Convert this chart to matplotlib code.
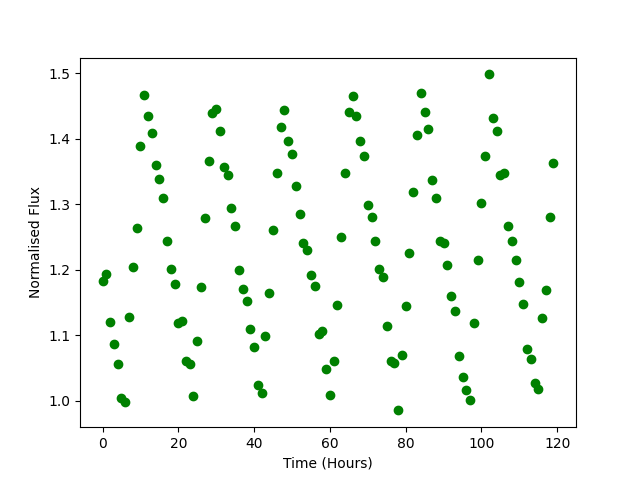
import numpy as np
import matplotlib
matplotlib.use("Agg")
import matplotlib.pyplot as plt

# Time in hours, one reading per hour
time_hours = np.arange(120)

# Normalised flux
flux = [
    1.183, 1.194, 1.120, 1.087, 1.056, 1.004, 0.998, 1.128, 1.204, 1.263,
    1.389, 1.466, 1.434, 1.409, 1.360, 1.339, 1.310, 1.244, 1.201, 1.178,
    1.119, 1.122, 1.061, 1.056, 1.007, 1.091, 1.174, 1.278, 1.366, 1.439,
    1.445, 1.411, 1.357, 1.344, 1.294, 1.266, 1.200, 1.171, 1.152, 1.110,
    1.082, 1.024, 1.012, 1.099, 1.165, 1.261, 1.348, 1.418, 1.444, 1.397,
    1.377, 1.328, 1.285, 1.240, 1.230, 1.192, 1.175, 1.102, 1.106, 1.048,
    1.009, 1.061, 1.146, 1.250, 1.347, 1.440, 1.465, 1.435, 1.396, 1.373,
    1.298, 1.281, 1.243, 1.201, 1.188, 1.114, 1.061, 1.058, 0.985, 1.070,
    1.145, 1.226, 1.319, 1.405, 1.470, 1.441, 1.414, 1.337, 1.310, 1.243,
    1.241, 1.207, 1.159, 1.136, 1.068, 1.036, 1.016, 1.001, 1.119, 1.214,
    1.301, 1.374, 1.498, 1.432, 1.412, 1.345, 1.348, 1.267, 1.244, 1.215,
    1.181, 1.148, 1.079, 1.064, 1.027, 1.018, 1.126, 1.169, 1.281, 1.362,
]

fig = plt.figure(figsize=(6.4, 4.8), dpi=100)
plt.plot(time_hours, flux, 'o', color='green')
plt.xlabel("Time (Hours)")
plt.ylabel("Normalised Flux")

plt.savefig("out.png")
